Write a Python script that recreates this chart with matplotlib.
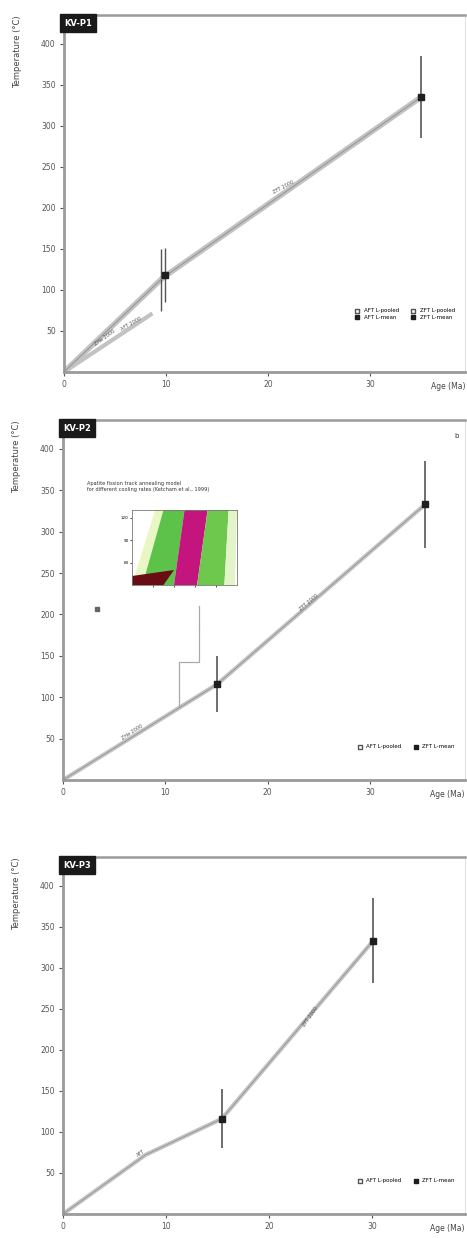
import matplotlib
matplotlib.use("Agg")
import matplotlib.pyplot as plt
from matplotlib.patches import Polygon

# ---------------- data ----------------
panel_labels = ["KV-P1", "KV-P2", "KV-P3"]
x_ticks = [0, 10, 20, 30]
y_ticks = [50, 100, 150, 200, 250, 300, 350, 400]

# panel 1
p1_path_x = [0, 9.7, 35.0]
p1_path_y = [0, 115, 335]
p1_path2_x = [0, 8.5]
p1_path2_y = [0, 70]
p1_pts_x = [9.5, 9.9, 35.0]
p1_pts_y = [112, 118, 335]
p1_pts_err = [38, 33, 50]
p1_legend = ["AFT L-pooled", "AFT L-mean", "ZFT L-pooled", "ZFT L-mean"]

# panel 2
p2_path_x = [0, 15.1, 35.4]
p2_path_y = [0, 116, 333]
p2_pts_x = [15.1, 35.4]
p2_pts_y = [116, 333]
p2_pts_err = [34, 53]
p2_legend = ["AFT L-pooled", "ZFT L-mean"]
p2_inset_title = ["Apatite fission track annealing model", "for different cooling rates (Ketcham et al., 1999)"]

# panel 3
p3_path_x = [0, 8.0, 15.4, 30.1]
p3_path_y = [0, 72, 116, 333]
p3_pts_x = [15.4, 30.1]
p3_pts_y = [116, 333]
p3_pts_err = [36, 52]
p3_legend = ["AFT L-pooled", "ZFT L-mean"]

# inset colour bands: (bottom-left x, bottom-right x, top-left x, top-right x)
band_colors = ["#e9f7c4", "#5cc24a", "#c4147e", "#6dc84d", "#e3f5c8"]
band_edges = [(0.00, 0.12, 0.22, 0.32), (0.10, 0.40, 0.30, 0.50),
              (0.40, 0.62, 0.50, 0.72), (0.62, 0.88, 0.72, 0.92),
              (0.88, 0.98, 0.92, 1.00)]

GREY = "#9a9a9a"
LINE = "#c2c2c2"
DARK = "#1e1e1e"

fig = plt.figure(figsize=(4.67, 12.38), dpi=100)
W, H = 467, 1238


def ax_rect(l, r, t, b):
    return [l / W, 1 - b / H, (r - l) / W, (b - t) / H]


def style_axes(ax, label, xmax):
    ax.set_xlim(0, xmax)
    ax.set_ylim(0, 435)
    ax.set_xticks(x_ticks)
    ax.set_yticks(y_ticks)
    ax.tick_params(labelsize=5.5, colors="#555555", length=3, width=0.8, pad=3)
    for s in ["left", "bottom"]:
        ax.spines[s].set_color(GREY)
        ax.spines[s].set_linewidth(2.0)
    ax.spines["top"].set_color(GREY)
    ax.spines["top"].set_linewidth(1.8)
    ax.spines["right"].set_color("#e2e2e2")
    ax.spines["right"].set_linewidth(0.8)
    ax.text(0.0, 0.99, label, transform=ax.transAxes, ha="left", va="top",
            fontsize=6, color="white", fontweight="bold",
            bbox=dict(boxstyle="square,pad=0.5", fc="#1a1a1a", ec="#1a1a1a"))
    ax.text(-0.115, 1.0, "Temperature (°C)", transform=ax.transAxes, rotation=90,
            ha="center", va="top", fontsize=6, color="#444444")
    ax.text(1.0, -0.028, "Age (Ma)", transform=ax.transAxes, ha="right", va="top",
            fontsize=5.5, color="#444444")


def points(ax, xs, ys, errs):
    for x, y, e in zip(xs, ys, errs):
        ax.errorbar(x, y, yerr=e, fmt="s", ms=4, color=DARK,
                    ecolor="#555555", elinewidth=1.2, capsize=0, zorder=5)


# ---------- panel 1 ----------
ax1 = fig.add_axes(ax_rect(64, 465, 15, 372))
style_axes(ax1, panel_labels[0], 39.3)
ax1.plot(p1_path_x, p1_path_y, color=LINE, lw=4, solid_capstyle="round", zorder=2)
ax1.plot(p1_path_x, p1_path_y, color="#8c8c8c", lw=0.6, zorder=3)
ax1.plot(p1_path2_x, p1_path2_y, color=LINE, lw=3, zorder=2)
ax1.text(4.0, 42, "ZHe 2000", fontsize=3.5, rotation=36, color="#555555", ha="center", va="center")
ax1.text(6.6, 58, "AFT 2000", fontsize=3.5, rotation=30, color="#555555", ha="center", va="center")
ax1.text(21.5, 225, "ZFT 2000", fontsize=3.5, rotation=28, color="#555555", ha="center", va="center")
ax1.errorbar(p1_pts_x[0], p1_pts_y[0], yerr=p1_pts_err[0], fmt="none", ecolor="#555555", elinewidth=1.0)
ax1.errorbar(p1_pts_x[1], p1_pts_y[1], yerr=p1_pts_err[1], fmt="s", ms=4, color=DARK,
             ecolor="#555555", elinewidth=1.0, zorder=5)
ax1.errorbar(p1_pts_x[2], p1_pts_y[2], yerr=p1_pts_err[2], fmt="s", ms=4, color=DARK,
             ecolor="#555555", elinewidth=1.2, zorder=5)
h = [ax1.scatter([], [], marker="s", s=8, facecolor="white", edgecolor="#555555"),
     ax1.scatter([], [], marker="s", s=8, color=DARK),
     ax1.scatter([], [], marker="s", s=8, facecolor="white", edgecolor="#555555"),
     ax1.scatter([], [], marker="s", s=8, color=DARK)]
ax1.legend(h, p1_legend, ncol=2, fontsize=4, frameon=False, loc="lower right",
           bbox_to_anchor=(0.98, 0.14), handletextpad=0.2, columnspacing=1.5,
           labelspacing=0.3, borderaxespad=0)

# ---------- panel 2 ----------
ax2 = fig.add_axes(ax_rect(63, 465, 420, 780))
style_axes(ax2, panel_labels[1], 39.3)
ax2.plot(p2_path_x, p2_path_y, color=LINE, lw=3, solid_capstyle="round", zorder=2)
ax2.plot(p2_path_x, p2_path_y, color="#8c8c8c", lw=0.5, zorder=3)
ax2.text(6.8, 58, "ZHe 2000", fontsize=3.5, rotation=33, color="#555555", ha="center", va="center")
ax2.text(24.0, 215, "ZFT 2000", fontsize=3.5, rotation=40, color="#555555", ha="center", va="center")
points(ax2, p2_pts_x, p2_pts_y, p2_pts_err)
ax2.plot([11.3, 11.3, 13.3, 13.3], [90, 143, 143, 185], color="#aaaaaa", lw=0.9)
ax2.plot([13.3, 13.3], [185, 210], color="#aaaaaa", lw=0.9)
ax2.plot([3.3], [207], marker="s", ms=3.5, color="#666666")
ax2.text(0.985, 0.965, "b", transform=ax2.transAxes, fontsize=5, ha="right", va="top", color="#333333")
ax2.text(0.06, 0.80, "\n".join(p2_inset_title), transform=ax2.transAxes, fontsize=3.6,
         ha="left", va="bottom", color="#333333", linespacing=1.3)
h2 = [ax2.scatter([], [], marker="s", s=8, facecolor="white", edgecolor="#555555"),
      ax2.scatter([], [], marker="s", s=8, color=DARK)]
ax2.legend(h2, p2_legend, ncol=2, fontsize=4, frameon=False, loc="lower right",
           bbox_to_anchor=(0.98, 0.08), handletextpad=0.2, columnspacing=1.5, borderaxespad=0)

# inset
axi = fig.add_axes(ax_rect(132, 237, 510, 585))
axi.set_xlim(0, 1)
axi.set_ylim(0, 1)
for c, (bl, br, tl, tr) in zip(band_colors, band_edges):
    axi.add_patch(Polygon([(bl, 0), (br, 0), (tr, 1), (tl, 1)], closed=True, fc=c, ec="none"))
axi.add_patch(Polygon([(0, 0), (0.3, 0), (0.4, 0.2), (0, 0.12)], closed=True, fc="#6a0c14", ec="none"))
axi.set_xticks([0.2, 0.4, 0.6, 0.8])
axi.set_yticks([0.3, 0.6, 0.9])
axi.tick_params(labelsize=3, length=1.5, width=0.5, pad=1)
axi.set_xticklabels(["", "", "", ""])
axi.set_yticklabels(["60", "90", "120"])
for s in axi.spines.values():
    s.set_color("#777777")
    s.set_linewidth(0.6)

# ---------- panel 3 ----------
ax3 = fig.add_axes(ax_rect(63, 465, 857, 1214))
style_axes(ax3, panel_labels[2], 39.0)
ax3.plot(p3_path_x, p3_path_y, color=LINE, lw=3, solid_capstyle="round", zorder=2)
ax3.plot(p3_path_x, p3_path_y, color="#8c8c8c", lw=0.5, zorder=3)
ax3.text(7.6, 74, "AFT", fontsize=3.5, rotation=33, color="#555555", ha="center", va="center")
ax3.text(24.0, 240, "ZFT 2000", fontsize=3.5, rotation=55, color="#555555", ha="center", va="center")
points(ax3, p3_pts_x, p3_pts_y, p3_pts_err)
h3 = [ax3.scatter([], [], marker="s", s=8, facecolor="white", edgecolor="#555555"),
      ax3.scatter([], [], marker="s", s=8, color=DARK)]
ax3.legend(h3, p3_legend, ncol=2, fontsize=4, frameon=False, loc="lower right",
           bbox_to_anchor=(0.98, 0.08), handletextpad=0.2, columnspacing=1.5, borderaxespad=0)

fig.savefig("out.png", dpi=100)
